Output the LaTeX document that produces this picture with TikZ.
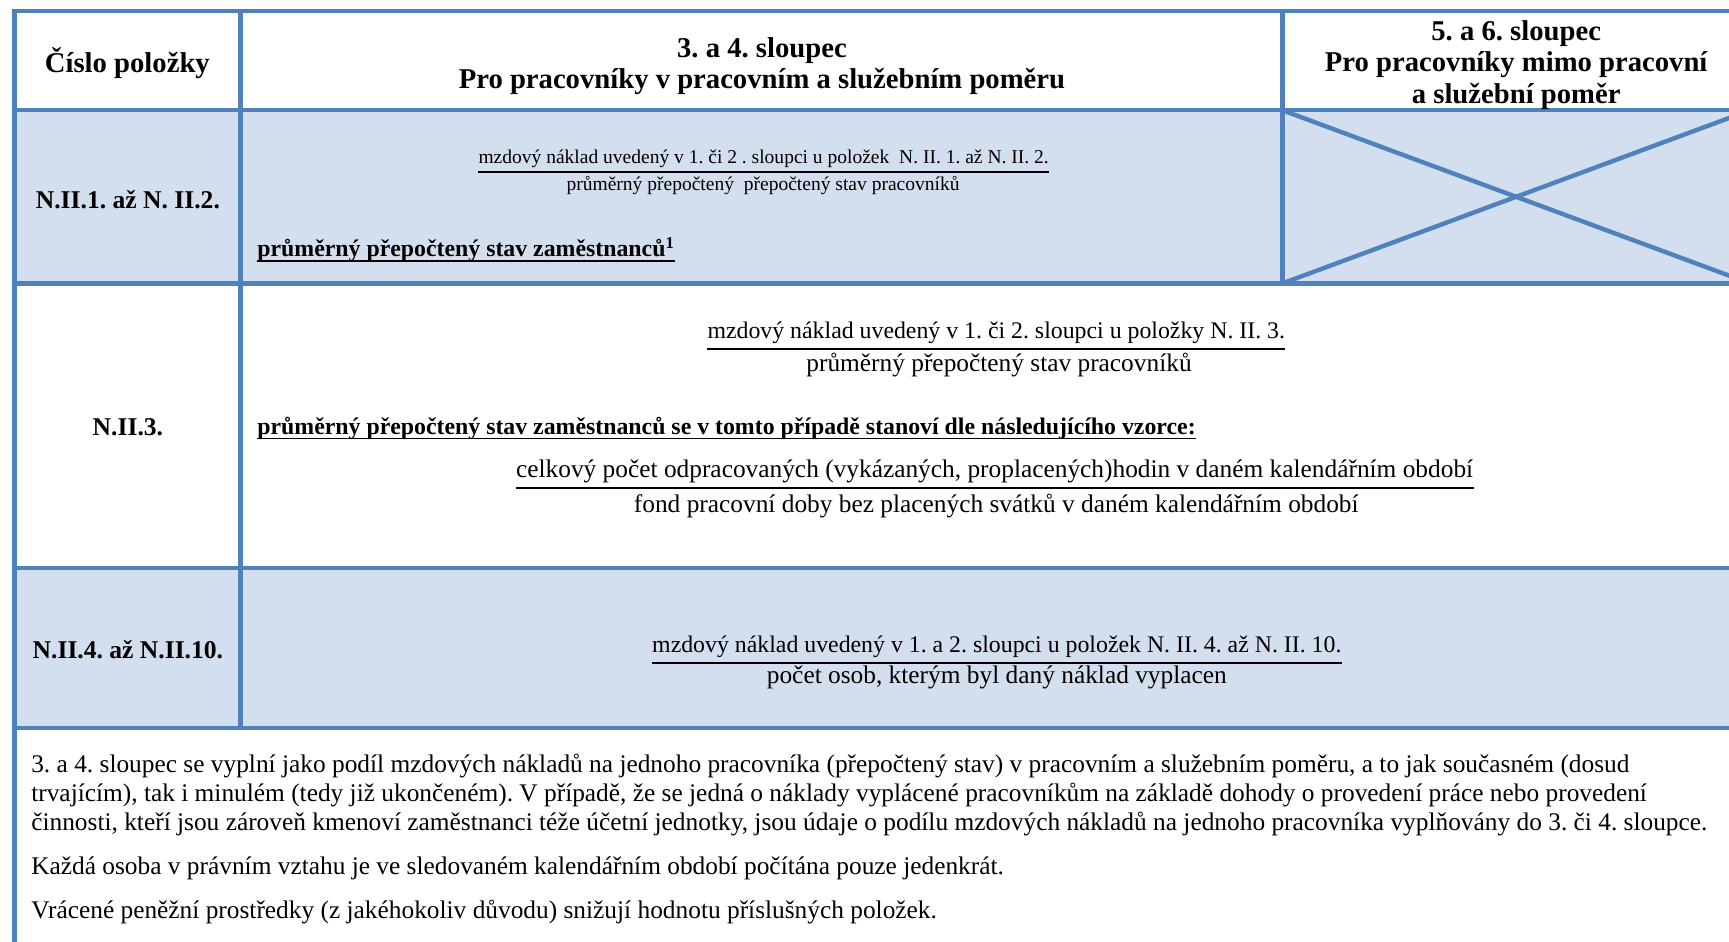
\documentclass[tikz,border=0pt]{standalone}
\usepackage{fontspec}
\setmainfont{Liberation Serif}
\AtBeginDocument{\frenchspacing}
\definecolor{tblue}{HTML}{4F81BD}
\definecolor{tfill}{HTML}{D3DFEE}
\tikzset{
  grid/.style={draw=tblue, line width=2pt},
  hd/.style={font=\fontsize{13}{14.3}\selectfont\bfseries, align=center, inner sep=0pt, anchor=center},
  rowlab/.style={font=\fontsize{11.6}{13}\selectfont\bfseries, inner sep=0pt, anchor=center},
  body/.style={font=\fontsize{11.5}{13}\selectfont, inner sep=0pt, anchor=base},
  numt/.style={font=\fontsize{10.8}{13}\selectfont, inner sep=0pt, anchor=base},
  smallt/.style={font=\fontsize{8.85}{10}\selectfont, inner sep=0pt, anchor=base},
  bul/.style={font=\fontsize{10.8}{13}\selectfont\bfseries, inner sep=0pt, anchor=base west},
  foot/.style={font=\fontsize{11.5}{13}\selectfont, inner sep=0pt, anchor=base west},
  fracline/.style={draw=black, line width=0.9pt},
  uline/.style={draw=black, line width=0.8pt}
}
\begin{document}
\begin{tikzpicture}[x=0.5pt,y=-0.5pt]
\useasboundingbox (0,0) rectangle (1568,854);
\begin{scope}
\clip (0,0) rectangle (1568,854);
\fill[white] (0,0) rectangle (1568,854);
\fill[tfill] (13,100) rectangle (1600,257);
\fill[tfill] (13,515) rectangle (1600,660);
% X in column 5/6
\draw[grid] (1163,100) -- (1587,257);
\draw[grid] (1163,257) -- (1587,100);
% horizontal rules
\draw[grid] (11,10) -- (1600,10);
\draw[grid] (11,100) -- (1600,100);
\draw[grid] (11,257) -- (1600,257);
\draw[grid] (11,515) -- (1600,515);
\draw[grid] (11,660) -- (1600,660);
% vertical rules
\draw[grid] (13,9) -- (13,860);
\draw[grid] (218,9) -- (218,660);
\draw[grid] (1163,9) -- (1163,257);
\end{scope}

% header
\node[hd] (h1) at (115.5,57) {Číslo položky};
\node[hd] (h2) at (691,60) {3. a 4. sloupec\\Pro pracovníky v pracovním a služebním poměru};
\node[hd] (h3) at (1375,59) {5. a 6. sloupec\\Pro pracovníky mimo pracovní\\a služební poměr};

% row 1
\node[rowlab] (r1) at (116,181) {N.II.1. až N. II.2.};
\node[smallt] (n1) at (692.5,148) {mzdový náklad uvedený v 1. či 2 . sloupci u položek \ N. II. 1. až N. II. 2.};
\draw[fracline] ([yshift=-4pt]n1.base west) -- ([yshift=-4pt]n1.base east);
\node[smallt] (d1) at (692,173) {průměrný přepočtený \ přepočtený stav pracovníků};
\node[bul] (u1) at (233,233) {průměrný přepočtený stav zaměstnanců\textsuperscript{1}};
\draw[uline] ([yshift=-1.8pt]u1.base west) -- ([yshift=-1.8pt]u1.base east);

% row 2
\node[rowlab] (r2) at (116,387) {N.II.3.};
\node[numt] (n2) at (903.5,307) {mzdový náklad uvedený v 1. či 2. sloupci u položky N. II. 3.};
\draw[fracline] ([yshift=-4.8pt]n2.base west) -- ([yshift=-4.8pt]n2.base east);
\node[body] (d2) at (906,337) {průměrný přepočtený stav pracovníků};
\node[bul] (u2) at (233,394) {průměrný přepočtený stav zaměstnanců se v tomto případě stanoví dle následujícího vzorce:};
\draw[uline] ([yshift=-1.8pt]u2.base west) -- ([yshift=-1.8pt]u2.base east);
\node[body] (n3) at (902,433) {celkový počet odpracovaných (vykázaných, proplacených)hodin v daném kalendářním období};
\draw[fracline] ([yshift=-5pt]n3.base west) -- ([yshift=-5pt]n3.base east);
\node[body] (d3) at (903.5,465) {fond pracovní doby bez placených svátků v daném kalendářním období};

% row 3
\node[rowlab] (r3) at (116,589) {N.II.4. až N.II.10.};
\node[numt] (n4) at (904,592) {mzdový náklad uvedený v 1. a 2. sloupci u položek N. II. 4. až N. II. 10.};
\draw[fracline] ([yshift=-4.8pt]n4.base west) -- ([yshift=-4.8pt]n4.base east);
\node[body] (d4) at (904,620) {počet osob, kterým byl daný náklad vyplacen};

% footer
\node[foot] (f1) at (28,701) {3. a 4. sloupec se vyplní jako podíl mzdových nákladů na jednoho pracovníka (přepočtený stav) v pracovním a služebním poměru, a to jak současném (dosud};
\node[foot] (f2) at (28,727) {trvajícím), tak i minulém (tedy již ukončeném). V případě, že se jedná o náklady vyplácené pracovníkům na základě dohody o provedení práce nebo provedení};
\node[foot] (f3) at (28,753) {činnosti, kteří jsou zároveň kmenoví zaměstnanci téže účetní jednotky, jsou údaje o podílu mzdových nákladů na jednoho pracovníka vyplňovány do 3. či 4. sloupce.};
\node[foot] (f4) at (28,793) {Každá osoba v právním vztahu je ve sledovaném kalendářním období počítána pouze jedenkrát.};
\node[foot] (f5) at (28,833) {Vrácené peněžní prostředky (z jakéhokoliv důvodu) snižují hodnotu příslušných položek.};
\end{tikzpicture}
\end{document}
